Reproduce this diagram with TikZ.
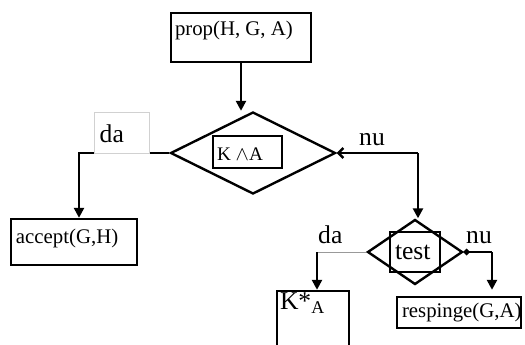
\documentclass[tikz,border=0pt]{standalone}
\usepackage{fontspec}
\setmainfont{Liberation Serif}
\usetikzlibrary{fit,shapes.geometric,arrows.meta,calc}

\begin{document}
\begin{tikzpicture}[x=0.5pt,y=-0.5pt,line width=1.2pt,
    arr/.style={-{Triangle[length=5pt,width=5pt]}},
    txt/.style={anchor=base west,inner sep=0pt,font=\fontsize{10.4}{12}\selectfont},
    bigtxt/.style={anchor=base west,inner sep=0pt,font=\fontsize{12.8}{15}\selectfont},
    dec/.style={diamond,draw,inner sep=0pt}]
      \clip (0,0) rectangle (525,344);

      \node[fit={(171,13) (311,62)}, inner sep=0pt,draw] (prop) {};
      \node[txt] at ([shift={(4,24)}]prop.north west) {prop(H, G, A)};

      \node[dec,minimum width=82.5pt,minimum height=41pt] (cond) at (253,153) {};
      \node[fit={(213,136) (282,168)}, inner sep=0pt,draw] (kand) {};
      \node[txt,font=\fontsize{9.6}{11}\selectfont] at ([shift={(4,26)}]kand.north west)
      {K $\wedge$A};

      \node[fit={(11,219) (137,265)}, inner sep=0pt,draw] (accept) {};
      \node[txt] at ([shift={(5,26)}]accept.north west) {accept(G,H)};

      \node[dec,minimum width=47.5pt,minimum height=32.5pt] (test) at (415,252) {};
      \node[fit={(390,232) (440,272)}, inner sep=0pt,draw] (tbox) {};
      \node[bigtxt] at ([shift={(5,29)}]tbox.north west) {test};

      \node[fit={(277,291) (349,360)}, inner sep=0pt,draw] (kstar) {};
      \node[bigtxt] at ([shift={(3,20)}]kstar.north west) {K*\textsubscript{A}};

      \node[fit={(397,297) (521,328)}, inner sep=0pt,draw] (resp) {};
      \node[txt] at ([shift={(5,22)}]resp.north west) {respinge(G,A)};

      % connectors
      \draw[arr] (prop.south) -- (prop.south |- cond.north);

      \coordinate (c1) at (79,153);
      \draw[arr] (cond.west) -- (c1) -- (c1 |- accept.north);
      \node[fit={(94,112) (149,153)}, inner sep=0pt,draw=black!18,fill=white,
        line width=0.5pt] (yes1) {};
      \node[bigtxt] at ([shift={(5,31)}]yes1.north west) {da};

      \coordinate (c2) at (418,153);
      \draw[-{Straight Barb[length=2.5pt,width=5pt]}] (c2) -- (cond.east);
      \draw[arr] (c2) -- (c2 |- test.north);
      \node[bigtxt] (no1) at (358,145) {nu};

      \coordinate (c3) at (317,252);
      \draw[line width=0.5pt,black!40] (test.west) -- (c3);
      \draw[arr] (c3) -- (c3 |- kstar.north);
      \node[bigtxt] (yes2) at (317,243) {da};

      \coordinate (c4) at (492,252);
      \draw[{Circle[length=3pt]}-] (test.east) -- (c4);
      \draw[arr,shorten >=3pt] (c4) -- (c4 |- resp.north);
      \node[bigtxt] (no2) at (465,243) {nu};
\end{tikzpicture}
\end{document}
